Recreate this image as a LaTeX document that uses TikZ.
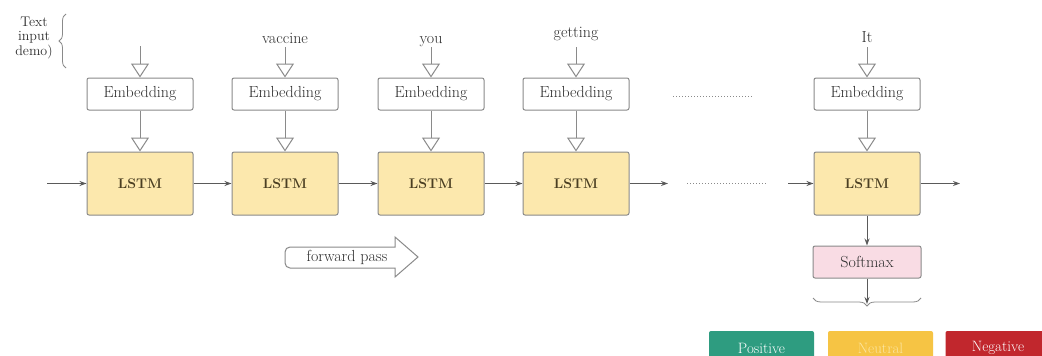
\documentclass[tikz,border=0pt]{standalone}
\usetikzlibrary{arrows.meta,decorations.pathreplacing}
\definecolor{lstmfill}{HTML}{FCE8AD}
\definecolor{boxgray}{HTML}{8A8A8A}
\definecolor{arrowgray}{HTML}{5A5A5A}
\definecolor{textgray}{HTML}{2E2E2E}
\definecolor{lstmtext}{HTML}{4A3E22}
\definecolor{softfill}{HTML}{F9DCE4}
\definecolor{posfill}{HTML}{2E9C80}
\definecolor{neufill}{HTML}{F6C444}
\definecolor{negfill}{HTML}{C1272D}
\definecolor{neutext}{HTML}{FCE5A0}
\begin{document}
\begin{tikzpicture}[x=1pt,y=-1pt,
  box/.style={draw=boxgray, line width=1pt, rounded corners=2pt, inner sep=0pt, text=textgray, font=\fontsize{16}{18}\selectfont},
  emb/.style={box, fill=white, minimum width=106pt, minimum height=32pt},
  lstm/.style={box, fill=lstmfill, minimum width=106pt, minimum height=63pt, text=lstmtext, font=\fontsize{14}{16}\selectfont\bfseries},
  soft/.style={box, fill=softfill, minimum width=108pt, minimum height=32pt},
  outbox/.style={rounded corners=2pt, inner sep=0pt, minimum width=105pt, minimum height=34pt, text=white, font=\fontsize{15}{17}\selectfont},
  word/.style={anchor=base, text=textgray, font=\fontsize{16}{18}\selectfont},
  hollow/.style={draw=boxgray, line width=1pt, -{Triangle[open, width=18pt, length=14pt, line width=1pt]}},
  flow/.style={draw=arrowgray, line width=1pt, -{Stealth[length=7pt, width=5pt]}},
  dots/.style={draw=boxgray, line width=1pt, dotted},
]
\clip (0,0) rectangle (1042,356);
\fill[white] (0,0) rectangle (1042,356);

% left label and brace
\node[align=center, text=textgray, font=\fontsize{14}{14.5}\selectfont, inner sep=0pt] (lab) at (34,38) {Text\\input\\demo)};
\coordinate (b1) at (66,14);
\coordinate (b2) at (66,68);
\draw[draw=boxgray, line width=0.8pt, decorate, decoration={brace, amplitude=7pt}] (b2) -- (b1);

% words
\node[word] (w2) at (285,43) {vaccine};
\node[word] (w3) at (431,43) {you};
\node[word] (w4) at (576,37) {getting};
\node[word] (w5) at (867,42) {It};

% tops of input arrows
\coordinate (t1) at (140,46);
\coordinate (t2) at (285,47);
\coordinate (t3) at (431,47);
\coordinate (t4) at (576,47);
\coordinate (t5) at (867,47);

% embeddings
\node[emb] (e1) at (140,94) {Embedding};
\node[emb] (e2) at (285,94) {Embedding};
\node[emb] (e3) at (431,94) {Embedding};
\node[emb] (e4) at (576,94) {Embedding};
\node[emb] (e5) at (867,94) {Embedding};

% LSTMs
\node[lstm] (l1) at (140,183.5) {LSTM};
\node[lstm] (l2) at (285,183.5) {LSTM};
\node[lstm] (l3) at (431,183.5) {LSTM};
\node[lstm] (l4) at (576,183.5) {LSTM};
\node[lstm] (l5) at (867,183.5) {LSTM};

% softmax
\node[soft] (sm) at (867,262) {Softmax};

% input arrows
\foreach \i in {1,...,5} {
  \draw[hollow] (t\i) -- (e\i.north);
  \draw[hollow] (e\i.south) -- (l\i.north);
}

% dotted gaps
\coordinate (g1) at (673,96);
\coordinate (g2) at (752,96);
\draw[dots] (g1) -- (g2);

\coordinate (in) at (47,183.5);
\coordinate (d0) at (668,183.5);
\coordinate (d1) at (687,183.5);
\coordinate (d2) at (767,183.5);
\coordinate (d3) at (788,183.5);
\coordinate (out) at (960,183.5);

\draw[flow] (in) -- (l1.west);
\draw[flow] (l1.east) -- (l2.west);
\draw[flow] (l2.east) -- (l3.west);
\draw[flow] (l3.east) -- (l4.west);
\draw[flow] (l4.east) -- (d0);
\draw[dots] (d1) -- (d2);
\draw[flow] (d3) -- (l5.west);
\draw[flow] (l5.east) -- (out);

% lstm -> softmax -> brace
\draw[flow] (l5.south) -- (sm.north);
\coordinate (bl) at (813,298);
\coordinate (br) at (921,298);
\coordinate (bt) at (867,304);
\draw[flow] (sm.south) -- (bt);
\draw[draw=boxgray, line width=0.8pt, decorate, decoration={brace, amplitude=8pt, mirror}] (bl) -- (br);

% forward pass arrow
\draw[draw=boxgray, fill=white, line width=1pt] (395,268) -- (395,277) -- (418,257) -- (395,237) -- (395,247) [rounded corners=5pt] -- (285,247) -- (285,268) [sharp corners] -- cycle;
\node[text=textgray, font=\fontsize{16}{18}\selectfont, inner sep=0pt] (fp) at (347,257.5) {forward pass};

% outputs
\node[outbox, fill=posfill] (pos) at (761.5,348) {Positive};
\node[outbox, fill=neufill, text=neutext] (neu) at (880.5,348) {Neutral};
\node[outbox, fill=negfill] (neg) at (998,348) {Negative};
\end{tikzpicture}
\end{document}
